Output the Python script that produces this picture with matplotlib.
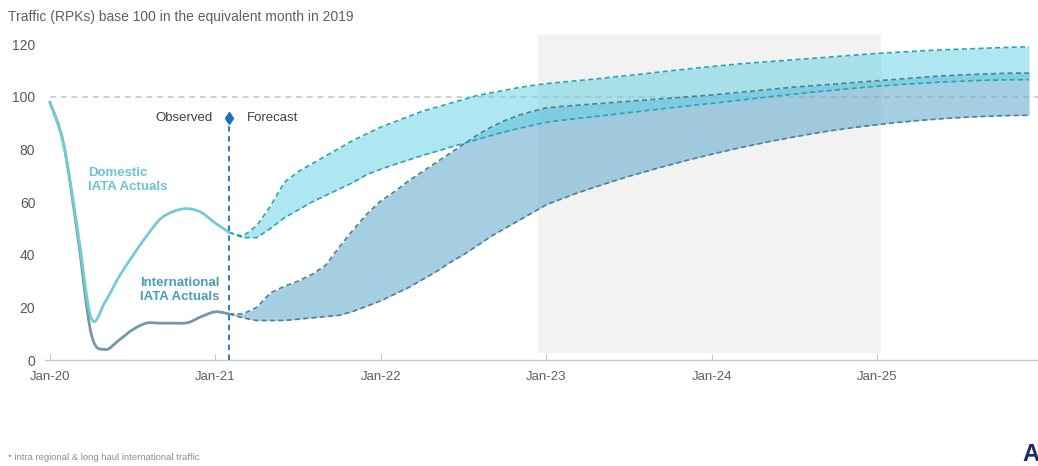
import numpy as np
import matplotlib
matplotlib.use("Agg")
import matplotlib.pyplot as plt
from matplotlib.patches import Rectangle, PathPatch
from matplotlib.path import Path

plt.rcParams['font.family'] = ['Liberation Sans', 'DejaVu Sans']

# ---------------- data ----------------
x_tick_labels = ["Jan-20", "Jan-21", "Jan-22", "Jan-23", "Jan-24", "Jan-25"]
x_tick_months = [0, 12, 24, 36, 48, 60]

# observed actuals, monthly from Jan-20 (month 0) to Feb-21 (month 13)
domestic_actual = [98, 82, 50, 16, 22, 31.5, 39.5, 47, 53.5, 56.5, 57.5, 56, 52, 48.5]
international_actual = [98, 82, 48, 10, 4, 7.5, 11.5, 14, 14, 14, 14.2, 16.5, 18.3, 17.5]

# forecast bands, monthly from Feb-21 (month 13) to Dec-25 (month 71)
domestic_upper = [48.5, 47, 51, 58.5, 67.5, 71.5, 74.5, 77.5, 80.5, 83.5, 86, 88.5, 90.5, 92.5,
                  94.5, 96, 97.5, 99, 100.5, 101.5, 102.5, 103.5, 104.3, 105, 105.5, 106, 106.5,
                  107, 107.6, 108.1, 108.7, 109.3, 109.9, 110.4, 111, 111.5, 112, 112.5, 112.9,
                  113.3, 113.7, 114.1, 114.5, 114.9, 115.3, 115.7, 116.1, 116.5, 116.8, 117.1,
                  117.4, 117.7, 117.9, 118.1, 118.3, 118.5, 118.7, 118.9, 119]
domestic_lower = [48.5, 46.5, 46.5, 50, 54, 57, 60, 62.5, 65, 67.5, 70.5, 72.5, 74.3, 76, 77.7,
                  79.2, 80.8, 82.3, 83.8, 85.3, 86.7, 88, 89.2, 90.3, 91, 91.6, 92.2, 92.8, 93.4,
                  94, 94.6, 95.2, 95.8, 96.4, 97, 97.5, 98.1, 98.7, 99.3, 99.9, 100.5, 101, 101.6,
                  102.1, 102.6, 103.1, 103.6, 104, 104.4, 104.8, 105.1, 105.4, 105.7, 105.9,
                  106.1, 106.3, 106.4, 106.5, 106.5]
international_upper = [17.5, 17.5, 20, 25.5, 28, 30, 32.5, 36, 43, 49.5, 55.5, 60.5, 64, 68,
                       71.5, 75, 78.5, 82, 85.5, 88.5, 91, 93, 94.5, 95.8, 96.3, 96.7, 97.1,
                       97.5, 97.9, 98.3, 98.7, 99.1, 99.5, 99.9, 100.3, 100.7, 101.2, 101.7,
                       102.2, 102.7, 103.2, 103.7, 104.1, 104.5, 104.9, 105.3, 105.7, 106.1,
                       106.5, 106.9, 107.3, 107.7, 108, 108.3, 108.5, 108.7, 108.9, 109, 109]
international_lower = [17.5, 16, 15, 15, 15, 15.5, 16, 16.5, 17, 18.5, 20.5, 22.5, 25, 27.5,
                       30.5, 33.5, 37, 40, 43.5, 47, 50, 53, 56, 59, 61, 63, 64.8, 66.5, 68.2,
                       69.8, 71.3, 72.8, 74.2, 75.6, 76.9, 78.2, 79.4, 80.6, 81.7, 82.8, 83.8,
                       84.8, 85.7, 86.6, 87.4, 88.1, 88.8, 89.4, 90, 90.5, 91, 91.4, 91.8, 92.1,
                       92.4, 92.6, 92.8, 92.9, 93]

forecast_start = 13
highlight_start, highlight_end = 35.4, 60.3
highlight_low, highlight_high = 2.5, 123.5
reference_level = 100
observed_line_top = 92


def smooth_path(xs, ys):
    """Smoothed (Catmull-Rom style) line through the data points, as a Bezier path."""
    pts = np.column_stack([xs, ys]).astype(float)
    n = len(pts)
    verts = [pts[0]]
    codes = [Path.MOVETO]
    for i in range(n - 1):
        p_prev = pts[i - 1] if i > 0 else pts[i]
        p0, p1 = pts[i], pts[i + 1]
        p_next = pts[i + 2] if i + 2 < n else pts[i + 1]
        c1 = p0 + (p1 - p_prev) / 6.0
        c2 = p1 - (p_next - p0) / 6.0
        verts += [c1, c2, p1]
        codes += [Path.CURVE4] * 3
    return Path(verts, codes)


# ---------------- figure ----------------
W, H = 1038, 466
fig = plt.figure(figsize=(W / 100, H / 100), dpi=100)
ax = fig.add_axes([45 / W, 1 - 360 / H, (W - 45) / W, (360 - 31) / H])
ax.set_xlim(-0.35, 71.65)
ax.set_ylim(0, 125)

m_act = np.arange(len(domestic_actual))
m_fc = np.arange(forecast_start, forecast_start + len(domestic_upper))

# highlight rectangle
ax.add_patch(Rectangle((highlight_start, highlight_low), highlight_end - highlight_start,
                       highlight_high - highlight_low, facecolor='#f2f2f2', edgecolor='none',
                       zorder=0))

# reference line at 100
ax.plot([0, 71.65], [reference_level, reference_level], color='#c4c4c4', lw=1.1,
        dashes=(4, 3), zorder=1)

# bands
ax.fill_between(m_fc, international_lower, international_upper, color='#6aaed0', alpha=0.6,
                lw=0, zorder=2)
ax.fill_between(m_fc, domestic_lower, domestic_upper, color='#5fd0e4', alpha=0.5,
                lw=0, zorder=3)
for arr in (international_upper, international_lower):
    ax.plot(m_fc, arr, color='#4d7f96', lw=1.2, dashes=(3, 2), zorder=4)
for arr in (domestic_upper, domestic_lower):
    ax.plot(m_fc, arr, color='#2aa3b6', lw=1.2, dashes=(3, 2), zorder=4)

# actual lines (smoothed)
ax.add_patch(PathPatch(smooth_path(m_act, international_actual), facecolor='none',
                       edgecolor='#7299a6', lw=2.0, zorder=5, capstyle='round',
                       joinstyle='round'))
ax.add_patch(PathPatch(smooth_path(m_act, domestic_actual), facecolor='none',
                       edgecolor='#72cdd2', lw=2.0, zorder=6, capstyle='round',
                       joinstyle='round'))

# observed / forecast divider
ax.plot([forecast_start, forecast_start], [0, observed_line_top], color='#1f6fbf', lw=1.3,
        dashes=(3, 2.5), zorder=7)
ax.plot([forecast_start], [observed_line_top], marker='d', color='#1f6fbf', ms=6, zorder=8)
ax.text(forecast_start - 1.2, observed_line_top, "Observed", ha='right', va='center',
        fontsize=9.5, color='#404040')
ax.text(forecast_start + 1.3, observed_line_top, "Forecast", ha='left', va='center',
        fontsize=9.5, color='#404040')

# series labels
ax.text(2.75, 68.5, "Domestic\nIATA Actuals", ha='left', va='center', fontsize=9.5,
        fontweight='bold', color='#6cc3d0', linespacing=1.25)
ax.text(6.55, 26.5, "International\nIATA Actuals", ha='left', va='center', fontsize=9.5,
        fontweight='bold', color='#4a9db3', linespacing=1.25)

# axes styling
for s in ('top', 'right', 'left'):
    ax.spines[s].set_visible(False)
ax.spines['bottom'].set_color('#c8c8c8')
ax.spines['bottom'].set_linewidth(1.0)
ax.set_yticks([0, 20, 40, 60, 80, 100, 120])
ax.set_yticklabels(['0', '20', '40', '60', '80', '100', '120'])
ax.tick_params(axis='y', length=0, pad=7, labelsize=10, labelcolor='#595959')
ax.set_xticks(x_tick_months)
ax.set_xticklabels(x_tick_labels)
ax.tick_params(axis='x', direction='in', length=4, color='#c8c8c8', pad=8, labelsize=9.5,
               labelcolor='#606060')

# title and footnote
fig.text(8 / W, 1 - 17 / H, "Traffic (RPKs) base 100 in the equivalent month in 2019",
         ha='left', va='center', fontsize=10, color='#606060')
fig.text(8 / W, 1 - 458 / H, "* intra regional & long haul international traffic",
         ha='left', va='center', fontsize=6.8, color='#8c8c8c')
fig.text(1022 / W, 0, "A", ha='left', va='bottom', fontsize=17, fontweight='bold',
         color='#1b2b63')

fig.savefig("out.png", dpi=100)
